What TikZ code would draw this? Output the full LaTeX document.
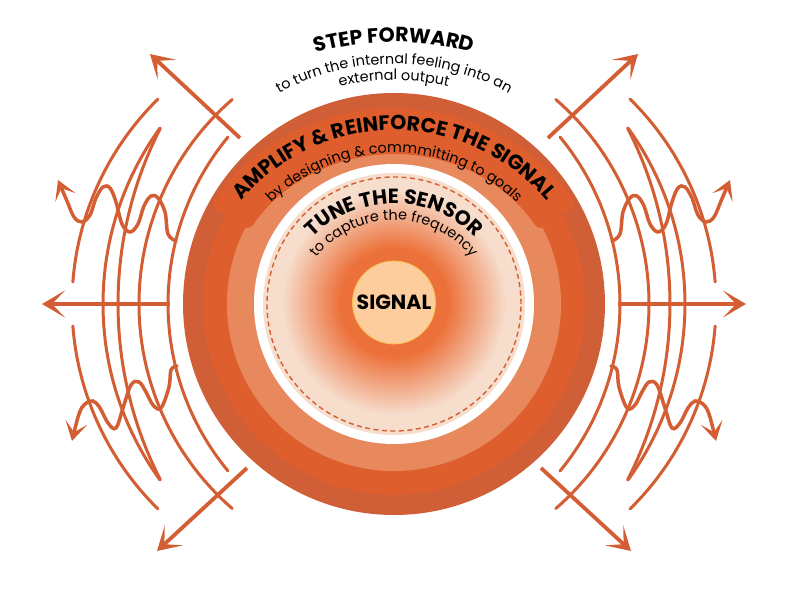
\documentclass[tikz,border=0pt]{standalone}
\usepackage{fontspec}
\setmainfont{Poppins}
\usetikzlibrary{arrows.meta,decorations.text}
\definecolor{rust}{HTML}{D45E33}
\definecolor{ringdark}{HTML}{D05E36}
\definecolor{ringmid}{HTML}{DE5F2D}
\definecolor{ringlight}{HTML}{E8895D}
\definecolor{peach}{HTML}{F6DDCC}
\definecolor{glow}{HTML}{EC7039}
\definecolor{core}{HTML}{FDCD9E}
\definecolor{coreline}{HTML}{F6C34C}
\pgfdeclareradialshading{glowshade}{\pgfpoint{0bp}{0bp}}{color(0bp)=(glow); color(12bp)=(glow); color(25bp)=(peach); color(50bp)=(peach)}
\newcommand\headfont{\bfseries\fontsize{20.5}{24}\selectfont}
\newcommand\subfont{\fontsize{14.4}{17}\selectfont}
\begin{document}
\begin{tikzpicture}[x=1pt, y=1pt,
    sketch/.style={rust, line width=3pt, line cap=round},
    wavy/.style={rust, line width=3.5pt, line cap=round, -{Stealth[length=19pt,width=22pt,inset=10pt]}},
    ray/.style={rust, line width=3.8pt, -{Stealth[length=23pt,width=27pt,inset=13pt]}},
    curved/.style={decorate, decoration={text along path, text align=center, text={#1}}}]
    \useasboundingbox (-394,-304) rectangle (394,304);
    \fill[white] (-394,-304) rectangle (394,304);
    \fill[ringdark] (0,0) circle[radius=211];
    \fill[ringmid] (0,0) circle[radius=191];
    \fill[ringlight] (0,0) circle[radius=167];
    \fill[ringmid, rounded corners=8pt] ([shift={(0,-25)}]146:221) arc[start angle=146, end angle=34, radius=221]
        -- ([shift={(0,-25)}]34:175) arc[start angle=34, end angle=146, radius=175] -- cycle;
    \fill[white] (0,0) circle[radius=140];
    \fill[peach] (0,0) circle[radius=131];
    \shade[shading=glowshade] (0,1.5) circle[radius=112];
    \draw[rust, line width=1.4pt, dash pattern=on 5pt off 3.5pt] (0,0) circle[radius=127];
    \node[circle, fill=core, draw=coreline, line width=0.8pt, minimum size=83pt, inner sep=0pt, font=\headfont] (signal) at (0,1.5) {SIGNAL};
    \path[curved={|\headfont|STEP FORWARD}] ([shift={(0,-30)}]120:292) arc[start angle=120, end angle=60, radius=292];
    \path[curved={|\subfont|to turn the internal feeling into an}] (135:240) arc[start angle=135, end angle=45, radius=240];
    \path[curved={|\subfont|external output}] (120:224) arc[start angle=120, end angle=60, radius=224];
    \path[curved={|\headfont|AMPLIFY {\&} REINFORCE THE SIGNAL}] ([shift={(0,-25)}]160:199) arc[start angle=160, end angle=20, radius=199];
    \path[curved={|\subfont|by designing {\&} commmitting to goals}] ([shift={(0,-25)}]155:176) arc[start angle=155, end angle=25, radius=176];
    \path[curved={|\headfont|TUNE THE SENSOR}] ([shift={(0,-15)}]165:115.5) arc[start angle=165, end angle=15, radius=115.5];
    \path[curved={|\subfont|to capture the frequency}] ([shift={(0,-15)}]170:99) arc[start angle=170, end angle=10, radius=99];
    \foreach \side in {1,-1}{
    \begin{scope}[xscale=\side]
        \draw[sketch] ([shift={(-34.7,0)}]134.5:287.3) arc[start angle=134.5, end angle=175.6, radius=287.3];
        \draw[sketch] ([shift={(-34.7,0)}]184.4:287.3) arc[start angle=184.4, end angle=225.5, radius=287.3];
        \draw[sketch] ([shift={(9.2,0)}]144.1:300.2) arc[start angle=144.1, end angle=215.9, radius=300.2];
        \draw[sketch] ([shift={(109.6,0)}]152.9:385.6) arc[start angle=152.9, end angle=207.1, radius=385.6];
        \draw[sketch] ([shift={(16,0)}]131:271) arc[start angle=131, end angle=229, radius=271];
        \draw[sketch] ([shift={(36.4,0)}]140.5:262.4) arc[start angle=140.5, end angle=219.5, radius=262.4];
        \draw[ray] (-224,0) -- (-352,0);
        \draw[ray] (-154,166) -- (-244,250);
        \draw[ray] (-147,-164) -- (-237,-247);
        \draw[wavy] plot[smooth, tension=0.6] coordinates {(-218,63) (-226,70) (-229,92) (-236,106) (-243,108) (-250,98) (-256,80) (-264,72) (-272,80) (-278,102) (-284,116) (-291,117) (-298,106) (-304,89) (-312,82) (-320,87) (-327,103) (-336,124)};
        \draw[wavy] plot[smooth, tension=0.6] coordinates {(-217,-62) (-223,-66) (-225,-83) (-233,-104) (-241,-101) (-248,-88) (-255,-78) (-263,-81) (-271,-104) (-278,-124) (-286,-119) (-294,-104) (-301,-97) (-309,-100) (-315,-110) (-322,-137)};
    \end{scope}
    }
\end{tikzpicture}
\end{document}
